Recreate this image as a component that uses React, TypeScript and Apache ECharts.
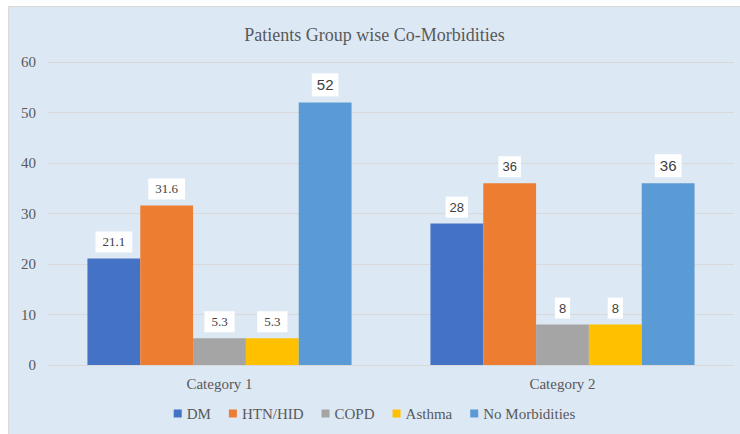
import React, { useEffect, useRef } from "react";
import * as echarts from "echarts";

const categories = ["Category 1", "Category 2"];
const seriesNames = ["DM", "HTN/HID", "COPD", "Asthma", "No Morbidities"];
const dmValues = [21.1, 28];
const htnValues = [31.6, 36];
const copdValues = [5.3, 8];
const asthmaValues = [5.3, 8];
const noMorbValues = [52, 36];
const yTicks = { min: 0, max: 60, interval: 10 };

const colors = ["#4472c4", "#ed7d31", "#a5a5a5", "#ffc000", "#5b9bd5"];
const SERIF = "Liberation Serif";
const SANS = "Liberation Sans";

export default function App() {
  const ref = useRef<HTMLDivElement>(null);
  useEffect(() => {
    if (!ref.current) return;
    const chart = echarts.init(ref.current, undefined, { renderer: "svg" });
    const allValues = [dmValues, htnValues, copdValues, asthmaValues, noMorbValues];
    const labelStyle = (si: number, ci: number) => {
      const big = si === 4;
      const serif = ci === 0 && !big;
      return {
        show: true,
        position: "top",
        distance: 6,
        backgroundColor: "#ffffff",
        padding: big ? [4, 5] : serif ? [4, 7] : [4, 4],
        color: "#404040",
        fontFamily: serif ? SERIF : SANS,
        fontSize: big ? 15 : 13,
      };
    };
    const series = seriesNames.map((name, si) => ({
      name,
      type: "bar",
      barGap: "0%",
      barCategoryGap: "23%",
      itemStyle: { color: colors[si] },
      data: allValues[si].map((v, ci) => ({ value: v, label: labelStyle(si, ci) })),
    }));
    chart.setOption({
      animation: false,
      backgroundColor: "#dde8f5",
      title: {
        text: "Patients Group wise Co-Morbidities",
        left: "center",
        top: 14,
        textStyle: { fontFamily: SERIF, fontSize: 18, fontWeight: "normal", color: "#595959" },
      },
      legend: {
        bottom: 8,
        left: "center",
        itemWidth: 8,
        itemHeight: 8,
        itemGap: 18,
        icon: "rect",
        textStyle: { fontFamily: SERIF, fontSize: 15, color: "#595959" },
        data: seriesNames,
      },
      grid: { left: 39, right: 6, top: 55, bottom: 69, containLabel: false },
      xAxis: {
        type: "category",
        data: categories,
        axisLine: { lineStyle: { color: "#d9d9d9" } },
        axisTick: { show: false },
        axisLabel: { fontFamily: SERIF, fontSize: 15, color: "#595959", margin: 11 },
      },
      yAxis: {
        type: "value",
        min: yTicks.min,
        max: yTicks.max,
        interval: yTicks.interval,
        axisLine: { show: false },
        axisTick: { show: false },
        splitLine: { lineStyle: { color: "#d9d9d9" } },
        axisLabel: { fontFamily: SERIF, fontSize: 15, color: "#595959", margin: 12 },
      },
      series,
    });
    return () => chart.dispose();
  }, []);
  return (
    <div
      style={{
        position: "fixed",
        left: 8,
        top: 6,
        width: 740,
        height: 440,
        borderLeft: "1px solid #d9d9d9",
        borderTop: "1px solid #d9d9d9",
        boxSizing: "border-box",
      }}
    >
      <div ref={ref} style={{ width: 731, height: 427 }} />
    </div>
  );
}
